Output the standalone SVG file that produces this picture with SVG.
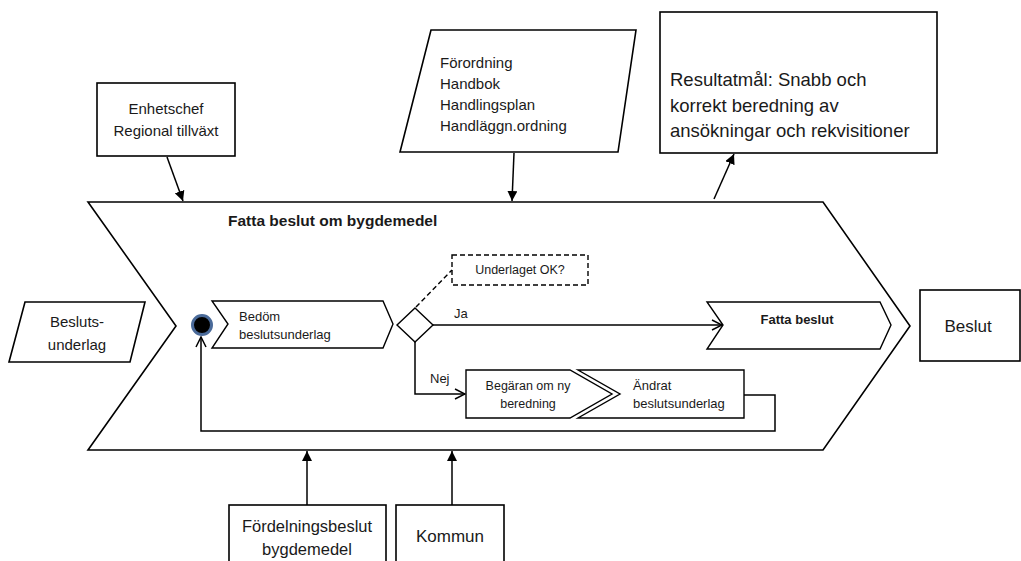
<svg xmlns="http://www.w3.org/2000/svg" width="1021" height="561" viewBox="0 0 1021 561">
  <style>
    .shape { fill: #ffffff; stroke: #000000; stroke-width: 1.6; stroke-linejoin: miter; }
    .thin { fill: #ffffff; stroke: #000000; stroke-width: 1.4; }
    .dash { fill: #ffffff; stroke: #000000; stroke-width: 1.4; stroke-dasharray: 5 3; }
    .line { fill: none; stroke: #000000; stroke-width: 1.5; }
    .dline { fill: none; stroke: #000000; stroke-width: 1.4; stroke-dasharray: 5 3; }
    text { font-family: "Liberation Sans", Arial, sans-serif; fill: #1a1a1a; }
    .t15 { font-size: 15px; }
    .t17 { font-size: 17px; }
    .t18 { font-size: 18.5px; }
    .t13 { font-size: 13px; }
    .b { font-weight: bold; }
    .mid { text-anchor: middle; }
  </style>
  <defs>
    <marker id="solid" viewBox="0 0 10 10" refX="10" refY="5" markerWidth="10" markerHeight="10" markerUnits="userSpaceOnUse" orient="auto">
      <path d="M0,0 L10,5 L0,10 z" fill="#000000"/>
    </marker>
    <marker id="open" viewBox="0 0 12 12" refX="11" refY="6" markerWidth="12" markerHeight="12" markerUnits="userSpaceOnUse" orient="auto">
      <path d="M1,1 L11,6 L1,11" fill="none" stroke="#000000" stroke-width="1.5"/>
    </marker>
  </defs>

  <!-- Process chevron -->
  <g id="process">
    <polygon class="shape" points="88,202 823,202 910,326 823,450 88,450 176,326"/>
    <text class="b" x="228" y="226" style="font-size:15.5px">Fatta beslut om bygdemedel</text>
  </g>

  <!-- Inputs and controls -->
  <g id="enhetschef">
    <rect class="shape" x="97" y="83" width="138" height="73"/>
    <text class="t15 mid" x="166" y="114">Enhetschef</text>
    <text class="t15 mid" x="166" y="136">Regional tillväxt</text>
  </g>

  <g id="regelverk">
    <polygon class="shape" points="431,30 636,30 618,152 400,152"/>
    <text class="t15" x="440" y="68">Förordning</text>
    <text class="t15" x="440" y="89">Handbok</text>
    <text class="t15" x="440" y="110">Handlingsplan</text>
    <text class="t15" x="440" y="131">Handläggn.ordning</text>
  </g>

  <g id="resultatmal">
    <rect class="shape" x="660" y="12" width="277" height="141"/>
    <text class="t18" x="670" y="86">Resultatmål: Snabb och</text>
    <text class="t18" x="670" y="112">korrekt beredning av</text>
    <text class="t18" x="670" y="137">ansökningar och rekvisitioner</text>
  </g>

  <g id="beslutsunderlag">
    <polygon class="shape" points="25,302 145,302 130,362 9,362"/>
    <text class="t15 mid" x="77" y="327">Besluts-</text>
    <text class="t15 mid" x="77" y="350">underlag</text>
  </g>

  <g id="beslut">
    <rect class="shape" x="920" y="290" width="100" height="71"/>
    <text class="t17 mid" x="968" y="332">Beslut</text>
  </g>

  <g id="fordelningsbeslut">
    <rect class="shape" x="229" y="505" width="157" height="70"/>
    <text class="mid" x="307" y="532" style="font-size:16.5px">Fördelningsbeslut</text>
    <text class="mid" x="307" y="555" style="font-size:16.5px">bygdemedel</text>
  </g>

  <g id="kommun">
    <rect class="shape" x="396" y="505" width="108" height="70"/>
    <text class="t17 mid" x="450" y="542">Kommun</text>
  </g>

  <!-- Inner flow -->
  <g id="start">
    <circle cx="202" cy="325" r="9.5" fill="#000000" stroke="#4a6a99" stroke-width="3"/>
  </g>

  <g id="bedom">
    <polygon class="thin" points="212,301 383,301 393,324 383,348 212,348 228,324"/>
    <text class="t13" x="239" y="321">Bedöm</text>
    <text class="t13" x="239" y="339">beslutsunderlag</text>
  </g>

  <g id="beslutspunkt">
    <polygon class="thin" points="415,308 433,325 415,342 397,325"/>
  </g>

  <g id="underlaget-ok">
    <rect class="dash" x="452" y="255" width="136" height="30"/>
    <text class="mid" x="520" y="274" style="font-size:12.5px">Underlaget OK?</text>
  </g>

  <g id="fatta-beslut">
    <polygon class="thin" points="707,302 880,302 891,325 880,349 707,349 723,325"/>
    <text class="t13 b mid" x="797" y="324">Fatta beslut</text>
  </g>

  <g id="begaran">
    <polygon class="thin" points="466,370 570,370 612,394 570,418 466,418"/>
    <text class="mid" x="528" y="390" style="font-size:12.5px">Begäran om ny</text>
    <text class="mid" x="528" y="408" style="font-size:12.5px">beredning</text>
  </g>

  <g id="andrat">
    <polygon class="thin" points="578,370 744,370 744,418 578,418 620,394"/>
    <text class="t13" x="633" y="390">Ändrat</text>
    <text class="t13" x="633" y="408">beslutsunderlag</text>
  </g>

  <!-- Connectors -->
  <g id="connectors">
    <line class="line" x1="167" y1="157" x2="183" y2="201" marker-end="url(#solid)"/>
    <line class="line" x1="514" y1="153" x2="512" y2="201" marker-end="url(#solid)"/>
    <line class="line" x1="714" y1="199" x2="734" y2="154" marker-end="url(#solid)"/>
    <line class="line" x1="307" y1="505" x2="307" y2="451" marker-end="url(#solid)"/>
    <line class="line" x1="452" y1="505" x2="452" y2="451" marker-end="url(#solid)"/>

    <line class="dline" x1="416" y1="307" x2="452" y2="270"/>
    <line class="line" x1="433" y1="325" x2="722" y2="325" marker-end="url(#open)"/>
    <polyline class="line" points="415,342 415,394 465,394" marker-end="url(#open)"/>
    <polyline class="line" points="744,395 775,395 775,431 201,431 201,337" marker-end="url(#open)"/>

    <text class="t13" x="454" y="318">Ja</text>
    <text class="t13" x="430" y="383">Nej</text>
  </g>
</svg>
